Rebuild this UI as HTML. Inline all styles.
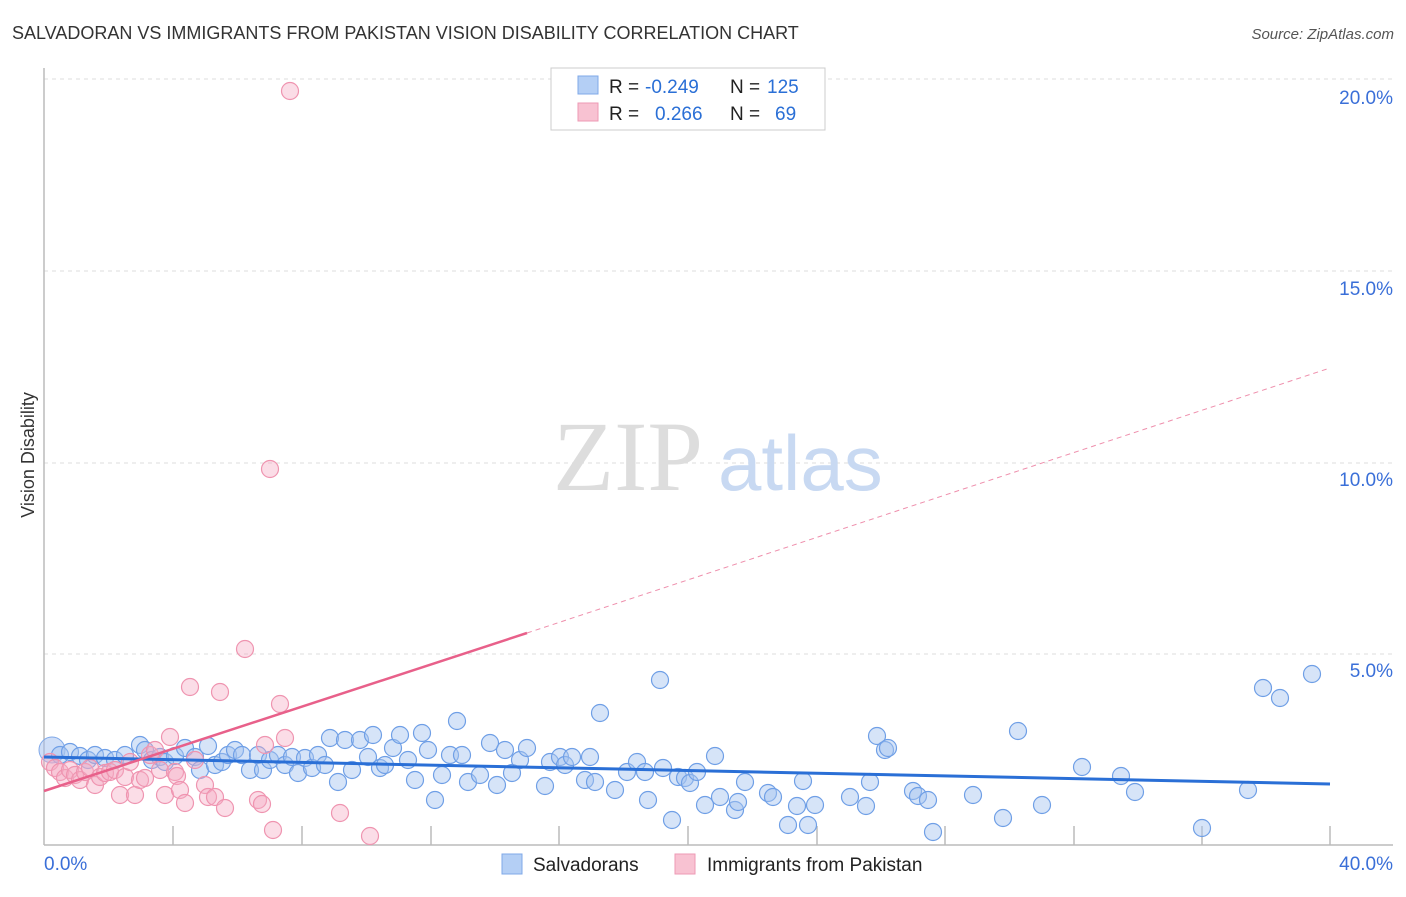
<!DOCTYPE html>
<html><head><meta charset="utf-8"><style>
body{margin:0;background:#fff;width:1406px;height:892px;overflow:hidden;font-family:"Liberation Sans",sans-serif}
</style></head><body>
<svg id="s" width="1406" height="892" xmlns="http://www.w3.org/2000/svg" font-family="Liberation Sans, sans-serif">
<text x="12" y="39" font-size="18" fill="#333">SALVADORAN VS IMMIGRANTS FROM PAKISTAN VISION DISABILITY CORRELATION CHART</text>
<text x="1394" y="39" font-size="15" fill="#555" text-anchor="end" font-style="italic">Source: ZipAtlas.com</text>
<g stroke="#ddd" stroke-dasharray="4,4" stroke-width="1">
<line x1="44" y1="79" x2="1393" y2="79"/><line x1="44" y1="271" x2="1393" y2="271"/>
<line x1="44" y1="463" x2="1393" y2="463"/><line x1="44" y1="654" x2="1393" y2="654"/>
</g>
<line x1="44" y1="68" x2="44" y2="845" stroke="#bbb" stroke-width="1.5"/>
<line x1="44" y1="845" x2="1393" y2="845" stroke="#bbb" stroke-width="1.5"/>
<g stroke="#bbb" stroke-width="1.5">
<line x1="173" y1="826" x2="173" y2="845"/><line x1="302" y1="826" x2="302" y2="845"/><line x1="431" y1="826" x2="431" y2="845"/><line x1="559" y1="826" x2="559" y2="845"/><line x1="688" y1="826" x2="688" y2="845"/><line x1="817" y1="826" x2="817" y2="845"/><line x1="945" y1="826" x2="945" y2="845"/><line x1="1074" y1="826" x2="1074" y2="845"/><line x1="1202" y1="826" x2="1202" y2="845"/><line x1="1330" y1="826" x2="1330" y2="845"/>
</g>
<g font-size="19" fill="#3a6fd8" text-anchor="end">
<text x="1393" y="104">20.0%</text><text x="1393" y="295">15.0%</text><text x="1393" y="486">10.0%</text><text x="1393" y="677">5.0%</text>
<text x="1393" y="870">40.0%</text></g>
<text x="44" y="870" font-size="19" fill="#3a6fd8">0.0%</text>
<text x="34" y="455" font-size="18" fill="#333" transform="rotate(-90 34 455)" text-anchor="middle">Vision Disability</text>
<text x="553" y="490" font-size="100" fill="#ddd" font-family="Liberation Serif, serif">ZIP</text>
<text x="718" y="490" font-size="78" fill="#c8d9f2">atlas</text>
<g id="pts"></g>
<line x1="44" y1="757" x2="1330" y2="784" stroke="#2a6fd6" stroke-width="3"/>
<line x1="44" y1="791" x2="527" y2="633" stroke="#e8608a" stroke-width="2.5"/>
<line x1="527" y1="633" x2="1330" y2="368" stroke="#e8608a" stroke-width="1" stroke-dasharray="5,4" opacity="0.7"/>
<rect x="551" y="68" width="274" height="62" fill="#fff" stroke="#ccc"/>
<rect x="578" y="76" width="20" height="18" fill="#b4cff5" stroke="#7fa8e8"/>
<rect x="578" y="103" width="20" height="18" fill="#f8c2d2" stroke="#ee9ab4"/>
<g font-size="19"><text x="609" y="93" fill="#222">R =</text><text x="645" y="93" fill="#2a6fd6">-0.249</text>
<text x="730" y="93" fill="#222">N =</text><text x="767" y="93" fill="#2a6fd6">125</text>
<text x="609" y="120" fill="#222">R =</text><text x="655" y="120" fill="#2a6fd6">0.266</text>
<text x="730" y="120" fill="#222">N =</text><text x="775" y="120" fill="#2a6fd6">69</text></g>
<rect x="502" y="854" width="20" height="20" fill="#b4cff5" stroke="#7fa8e8"/>
<text x="533" y="871" font-size="19" fill="#222">Salvadorans</text>
<rect x="675" y="854" width="20" height="20" fill="#f8c2d2" stroke="#ee9ab4"/>
<text x="707" y="871" font-size="19" fill="#222">Immigrants from Pakistan</text>
</svg>
<script>
var B=[[60,755],[70,752],[80,756],[88,760],[95,755],[105,758],[115,760],[125,755],[140,745],[145,750],[152,760],[160,757],[165,762],[175,756],[185,748],[195,757],[200,770],[208,746],[215,765],[222,762],[228,755],[235,750],[242,755],[250,770],[258,755],[263,770],[270,760],[278,755],[285,765],[292,757],[298,773],[305,758],[312,768],[318,755],[325,765],[330,738],[338,782],[345,740],[352,770],[360,740],[368,757],[373,735],[380,768],[385,765],[393,748],[400,735],[408,760],[415,780],[422,733],[428,750],[435,800],[442,775],[450,755],[457,721],[462,755],[468,782],[480,775],[490,743],[497,785],[505,750],[512,773],[520,760],[527,748],[545,786],[550,762],[560,757],[565,765],[572,757],[585,780],[590,757],[595,782],[600,713],[615,790],[627,772],[637,762],[645,772],[648,800],[660,680],[663,768],[672,820],[678,777],[685,778],[690,783],[697,772],[705,805],[715,756],[720,797],[735,810],[738,802],[745,782],[768,793],[773,797],[788,825],[797,806],[803,781],[808,825],[815,805],[850,797],[866,806],[870,782],[877,736],[885,750],[888,748],[913,791],[918,796],[928,800],[933,832],[973,795],[1003,818],[1018,731],[1042,805],[1082,767],[1121,776],[1135,792],[1202,828],[1248,790],[1263,688],[1280,698],[1312,674]];
var P=[[50,762],[55,768],[60,772],[65,778],[70,770],[75,775],[80,780],[85,772],[90,768],[95,785],[100,777],[105,773],[110,772],[115,770],[120,795],[125,777],[130,762],[135,795],[140,780],[145,778],[150,755],[155,750],[160,770],[165,795],[170,737],[175,772],[177,776],[180,790],[185,803],[190,687],[195,760],[205,785],[208,797],[215,797],[220,692],[225,808],[245,649],[258,800],[262,804],[265,745],[270,469],[273,830],[280,704],[285,738],[290,91],[340,813],[370,836]];
var s='<circle cx="52" cy="750" r="13" fill="rgba(160,190,240,0.5)" stroke="#7fa8e8"/>';
B.forEach(function(p){s+='<circle cx="'+p[0]+'" cy="'+p[1]+'" r="8.5" fill="rgba(164,196,240,0.45)" stroke="#6f9fe6" stroke-width="1.2"/>';});
P.forEach(function(p){s+='<circle cx="'+p[0]+'" cy="'+p[1]+'" r="8.5" fill="rgba(245,170,195,0.4)" stroke="#ef94b0" stroke-width="1.2"/>';});
document.getElementById('pts').innerHTML=s;
</script>
</body></html>
